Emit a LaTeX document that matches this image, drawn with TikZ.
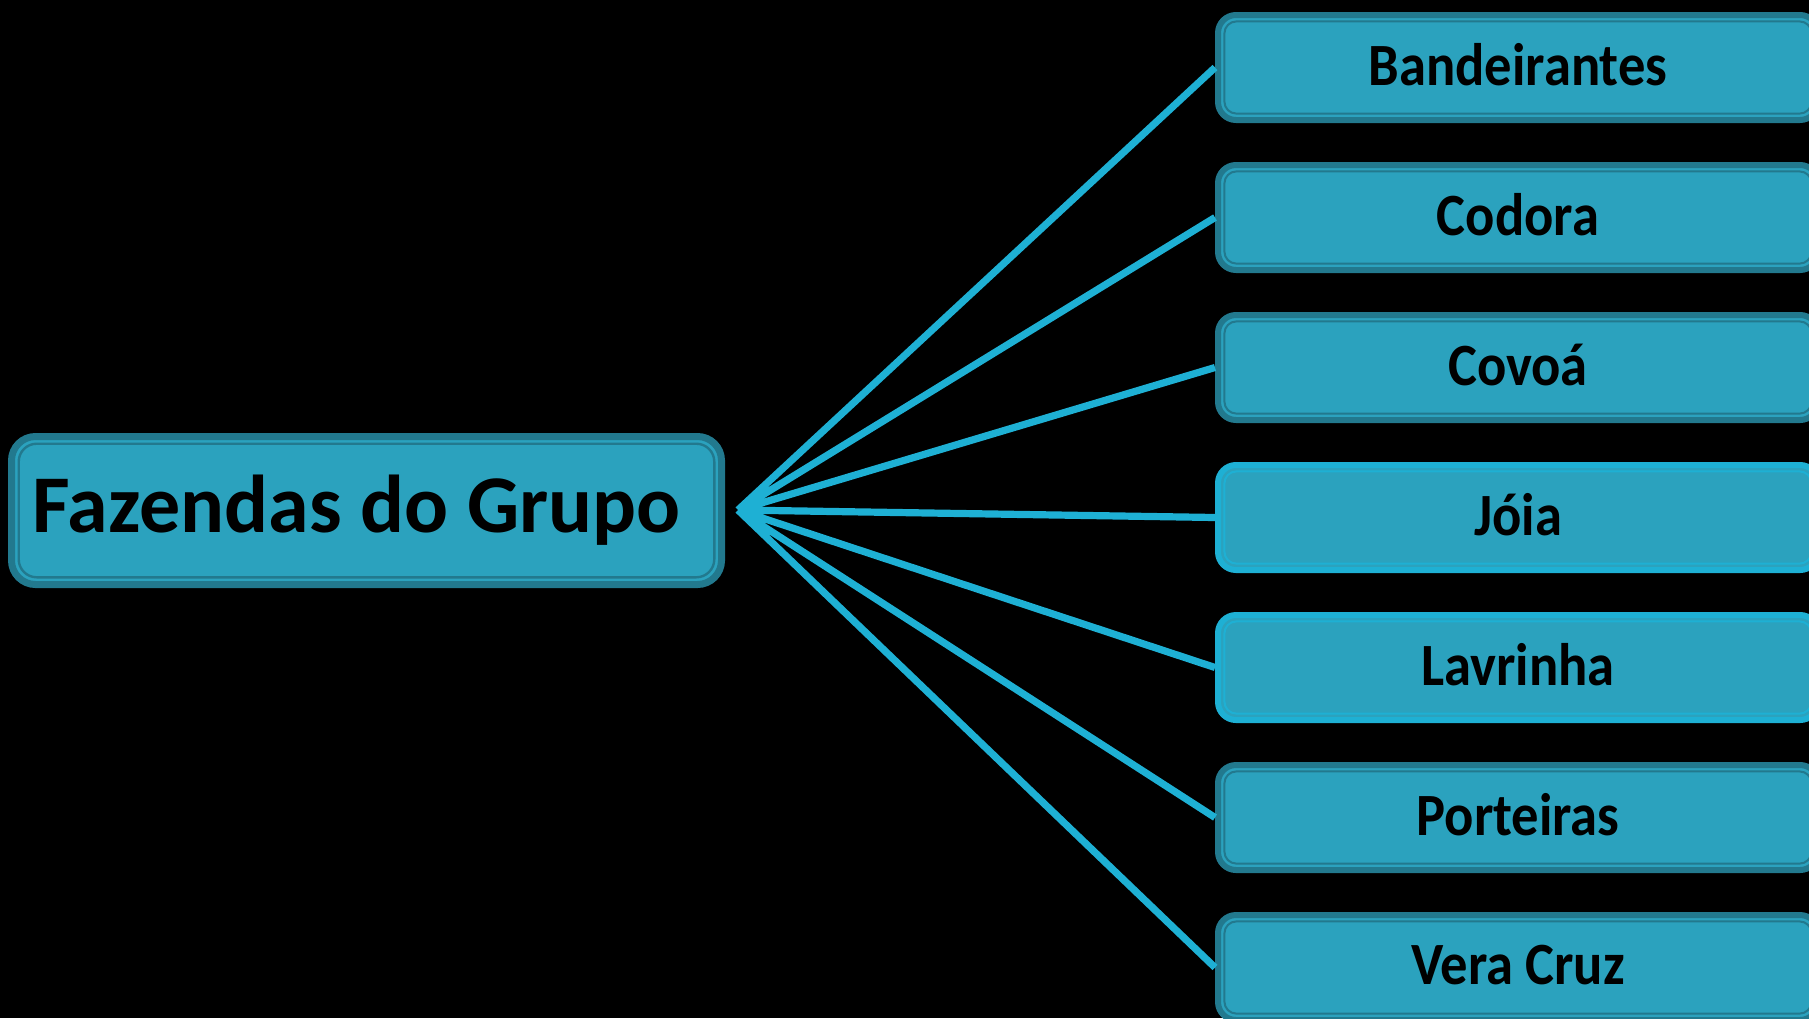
\documentclass[tikz,border=0pt]{standalone}
\usepackage{fontspec}
\setmainfont{Carlito}
\newfontfamily\farmfont[FakeStretch=0.91]{Carlito}
\usepackage{tikz}

\definecolor{boxfill}{HTML}{2BA2BE}
\definecolor{boxedge}{HTML}{22798E}
\definecolor{linkcol}{HTML}{1EB0D4}

\tikzset{
  farmbox/.style={draw=#1, fill=boxfill, line width=3pt, rounded corners=9pt,
    minimum width=300pt, minimum height=52.5pt, inner sep=0pt,
    font=\farmfont\fontsize{30}{34}\selectfont\bfseries,
    path picture={\draw[#1, line width=1pt, rounded corners=6pt]
      ([shift={(3.2pt,-3.2pt)}]path picture bounding box.north west) rectangle
      ([shift={(-3.2pt,3.2pt)}]path picture bounding box.south east);}},
  farmbox/.default=boxedge,
  link/.style={draw=linkcol, line width=3.6pt}
}

\begin{document}
\begin{tikzpicture}[x=0.5pt,y=-0.5pt]
  \fill[black] (0,0) rectangle (1809,1018);
  \useasboundingbox (0,0) rectangle (1809,1018);
  \coordinate(hub) at (738,510);
  \node[draw=boxedge, fill=boxfill, line width=3.5pt, rounded corners=12pt,
    minimum width=355pt, minimum height=74pt, inner sep=0pt,
    font=\fontsize{41}{48}\selectfont\bfseries,
    path picture={\draw[boxedge, line width=1.2pt, rounded corners=9pt]
      ([shift={(3.6pt,-3.6pt)}]path picture bounding box.north west) rectangle
      ([shift={(-3.6pt,3.6pt)}]path picture bounding box.south east);}]
    (grupo) at (366.5,510.5) {\hspace*{-10pt}Fazendas do Grupo};
  \node[farmbox](b1) at (1518,67.5){\raisebox{3pt}{Bandeirantes}};
  \node[farmbox](b2) at (1518,217.5){\raisebox{3pt}{Codora}};
  \node[farmbox](b3) at (1518,367.5){\raisebox{3pt}{Covoá}};
  \node[farmbox=linkcol](b4) at (1518,517.5){\raisebox{3pt}{Jóia}};
  \node[farmbox=linkcol](b5) at (1518,667.5){\raisebox{3pt}{Lavrinha}};
  \node[farmbox](b6) at (1518,817.5){\raisebox{3pt}{Porteiras}};
  \node[farmbox](b7) at (1518,967.5){\raisebox{3pt}{Vera Cruz}};
  \draw[link] (hub)--(b1.west) (hub)--(b2.west) (hub)--(b3.west) (hub)--(b4.west)
  (hub)--(b5.west) (hub)--(b6.west) (hub)--(b7.west);
\end{tikzpicture}
\end{document}
